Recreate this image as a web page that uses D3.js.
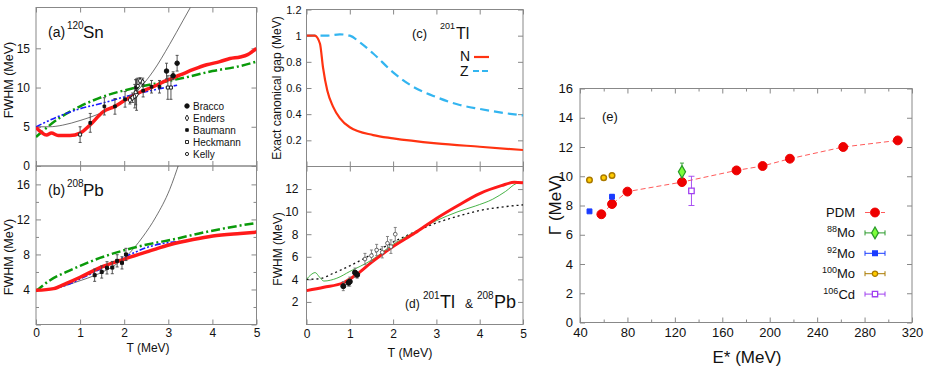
<!DOCTYPE html>
<html>
<head>
<meta charset="UTF-8">
<title></title>
<style>
    body { margin: 0; background: #fff; }
    text { font-family: "Liberation Sans", Arial, Helvetica, sans-serif; }
</style>
</head>
<body>
<script src="https://cdnjs.cloudflare.com/ajax/libs/d3/7.8.5/d3.min.js"></script>
<script>

    // ---- (a) 120Sn ----
    var snPdmT   = [0, 0.12, 0.24, 0.35, 0.5, 0.77, 1.0, 1.22, 1.52, 1.79, 2.02, 2.36, 2.66, 2.96, 3.27, 3.57, 3.87, 4.17, 4.4, 4.63, 4.8, 5.0];
    var snPdm    = [4.9, 4.3, 3.95, 4.2, 3.9, 3.9, 4.2, 5.2, 6.9, 7.6, 8.4, 9.4, 10.1, 10.9, 11.6, 12.3, 12.9, 13.3, 13.7, 13.9, 14.2, 15.0];
    var snGreenT = [0, 0.5, 1.0, 1.5, 2.2, 2.8, 3.4, 4.0, 4.6, 5.0];
    var snGreen  = [3.7, 6.0, 7.6, 8.8, 9.9, 10.6, 11.3, 12.1, 12.7, 13.3];
    var snBlueT  = [0, 0.5, 1.0, 1.5, 2.0, 2.6, 3.2];
    var snBlue   = [5.0, 6.3, 7.3, 8.0, 8.8, 9.6, 10.3];
    var snThinT  = [0, 0.3, 0.6, 1.0, 1.45, 1.9, 2.28, 2.66, 3.03, 3.33, 3.5];
    var snThin   = [5.0, 5.0, 5.2, 5.8, 6.7, 8.0, 9.5, 12.1, 15.5, 18.5, 20.2];
    // [T, FWHM, error]
    var bracco   = [[2.96, 12.1, 1.0], [3.11, 11.5, 0.5], [3.2, 13.1, 1.0]];
    var enders   = [[2.13, 8.4, 0.5], [2.19, 8.7, 0.6], [2.24, 8.9, 1.5], [2.28, 9.1, 2.0], [2.36, 10.85, 0.4], [2.42, 10.7, 0.5]];
    var baumann  = [[1.23, 5.5, 1.2], [1.55, 7.6, 1.1], [1.79, 7.6, 1.0], [2.02, 8.5, 1.0], [2.27, 10.0, 1.0], [2.43, 9.6, 0.8], [2.62, 10.1, 0.8], [2.8, 10.1, 0.8]];
    var heckmann = [[1.0, 4.0, 1.0], [2.99, 10.0, 1.5], [3.06, 10.0, 1.5]];
    var kelly    = [[2.26, 9.4, 1.6], [2.31, 10.2, 1.0]];
    var legendA  = ['Bracco', 'Enders', 'Baumann', 'Heckmann', 'Kelly'];

    // ---- (b) 208Pb ----
    var pbPdmT   = [0, 0.4, 0.69, 1.0, 1.45, 2.05, 2.58, 3.03, 3.56, 4.01, 4.63, 5.0];
    var pbPdm    = [3.9, 4.1, 4.7, 5.4, 6.5, 7.55, 8.4, 9.1, 9.7, 10.1, 10.4, 10.55];
    var pbGreenT = [0, 0.32, 0.69, 1.0, 1.45, 2.05, 2.58, 3.1, 3.7, 4.63, 5.0];
    var pbGreen  = [3.8, 5.06, 6.0, 6.7, 7.6, 8.55, 9.2, 9.7, 10.4, 11.3, 11.6];
    var pbBlueT  = [0, 0.4, 0.69, 1.0, 1.45, 2.05, 2.58, 3.26];
    var pbBlue   = [3.9, 4.1, 4.5, 5.2, 6.3, 7.8, 8.9, 9.5];
    var pbThinT  = [0, 0.4, 1.0, 1.33, 1.7, 2.05, 2.42, 2.72, 3.03, 3.25];
    var pbThin   = [3.9, 4.1, 5.0, 5.6, 6.5, 7.8, 10.0, 12.3, 15.4, 18.5];
    var pbData   = [[1.33, 5.63, 0.7], [1.49, 6.0, 0.7], [1.61, 6.47, 0.7], [1.73, 6.5, 0.7], [1.84, 7.27, 0.7], [1.95, 7.04, 0.7], [2.04, 8.0, 0.7]];

    // ---- (c) 201Tl exact canonical gap ----
    var gapNT = [0, 0.19, 0.31, 0.38, 0.48, 0.61, 0.77, 1.0, 1.54, 2.0, 3.0, 4.0, 5.0];
    var gapN  = [1, 1, 0.94, 0.76, 0.58, 0.46, 0.37, 0.30, 0.24, 0.215, 0.177, 0.151, 0.126];
    var gapZT = [0, 0.46, 0.77, 1.0, 1.23, 1.54, 2.0, 2.46, 3.0, 3.54, 4.0, 4.54, 5.0];
    var gapZ  = [1, 1, 1.01, 1.0, 0.95, 0.864, 0.72, 0.61, 0.53, 0.47, 0.44, 0.41, 0.39];

    // ---- (d) 201Tl & 208Pb ----
    var tlPdmT   = [0, 0.4, 0.85, 1.15, 1.5, 2.0, 2.5, 3.0, 3.5, 4.0, 4.5, 4.8, 5.0];
    var tlPdm    = [3.0, 3.3, 3.7, 4.4, 5.5, 6.9, 8.1, 9.4, 10.55, 11.6, 12.3, 12.6, 12.55];
    var tlGreenT = [0, 0.1, 0.2, 0.3, 0.4, 0.7, 1.0, 1.5, 2.0, 2.5, 3.0, 3.5, 3.9, 4.3, 4.6, 4.85, 5.0];
    var tlGreen  = [4.0, 4.4, 4.6, 4.2, 3.85, 4.1, 4.7, 5.7, 7.1, 8.2, 9.2, 10.0, 10.5, 11.1, 11.8, 12.5, 12.6];
    var tlDotT   = [0, 0.3, 0.6, 1.0, 1.5, 2.0, 2.5, 3.0, 3.5, 4.0, 4.5, 5.0];
    var tlDot    = [4.0, 4.05, 4.5, 5.2, 6.2, 7.3, 8.2, 9.0, 9.6, 10.1, 10.4, 10.6];
    var tlData   = [[0.85, 3.4, 0.4], [0.97, 3.7, 0.3], [1.0, 3.8, 0.4], [1.12, 4.6, 0.4], [1.17, 4.4, 0.3]];
    var pbOpen   = [[1.35, 5.8, 0.5], [1.5, 6.1, 0.5], [1.62, 6.6, 0.5], [1.75, 6.4, 0.5], [1.87, 7.2, 0.6], [1.95, 6.9, 0.6], [2.05, 8.0, 0.6]];

    // ---- (e) width vs excitation energy ----
    var pdmE   = [58, 67, 80, 126, 172, 194, 217, 262, 308];
    var pdmG   = [7.4, 8.1, 8.95, 9.6, 10.4, 10.7, 11.2, 12.0, 12.45];
    var mo88   = [[126, 10.3, 0.6]];
    var mo92   = [[48, 7.6, 0.05], [67, 8.6, 0.15]];
    var mo100  = [[48, 9.75, 0.15], [60, 9.9, 0.15], [67, 10.05, 0.15]];
    var cd106  = [[134, 9.0, 1.0]];

    var W = 926, H = 372;
    var svg = d3.select('body').append('svg').attr('width', W).attr('height', H);
    var defs = svg.append('defs');
    var nclip = 0;

    function pts(xs, ys) { return xs.map(function(t, i) { return [t, ys[i]]; }); }

    function panel(b, xd, yd, o) {
        var x = d3.scaleLinear().domain(xd).range([b.x0, b.x1]);
        var y = d3.scaleLinear().domain(yd).range([b.y1, b.y0]);
        var id = 'clip' + (nclip++);
        defs.append('clipPath').attr('id', id).append('rect')
            .attr('x', b.x0).attr('y', b.y0).attr('width', b.x1 - b.x0).attr('height', b.y1 - b.y0);

        function style(sel) {
            sel.select('.domain').remove();
            sel.selectAll('line').attr('stroke', '#888');
            sel.selectAll('text').attr('font-size', o.fs).attr('fill', '#111');
        }
        var ax = svg.append('g');
        ax.append('g').attr('transform', 'translate(0,' + b.y1 + ')')
            .call(d3.axisBottom(x).tickValues(o.xt).tickSize(-5).tickPadding(o.xpad || 4)
                .tickFormat(o.xlab ? d3.format('~g') : ''))
            .call(style);
        ax.append('g').attr('transform', 'translate(0,' + b.y0 + ')')
            .call(d3.axisTop(x).tickValues(o.xt).tickSize(-5).tickFormat(''))
            .call(style);
        ax.append('g').attr('transform', 'translate(' + b.x0 + ',0)')
            .call(d3.axisLeft(y).tickValues(o.yt).tickSize(-5).tickPadding(o.ypad || 6)
                .tickFormat(function(d) { return o.ylab.indexOf(d) >= 0 ? d3.format('~g')(d) : ''; }))
            .call(style);
        ax.append('g').attr('transform', 'translate(' + b.x1 + ',0)')
            .call(d3.axisRight(y).tickValues(o.yt).tickSize(-5).tickFormat(''))
            .call(style);
        if (o.xminor) {
            ax.append('g').attr('transform', 'translate(0,' + b.y1 + ')')
                .call(d3.axisBottom(x).tickValues(o.xminor).tickSize(-3).tickFormat('')).call(style);
            ax.append('g').attr('transform', 'translate(0,' + b.y0 + ')')
                .call(d3.axisTop(x).tickValues(o.xminor).tickSize(-3).tickFormat('')).call(style);
        }
        if (o.yminor) {
            ax.append('g').attr('transform', 'translate(' + b.x0 + ',0)')
                .call(d3.axisLeft(y).tickValues(o.yminor).tickSize(-3).tickFormat('')).call(style);
            ax.append('g').attr('transform', 'translate(' + b.x1 + ',0)')
                .call(d3.axisRight(y).tickValues(o.yminor).tickSize(-3).tickFormat('')).call(style);
        }
        svg.append('rect').attr('x', b.x0).attr('y', b.y0)
            .attr('width', b.x1 - b.x0).attr('height', b.y1 - b.y0)
            .attr('fill', 'none').attr('stroke', '#888').attr('stroke-width', 1);

        var plot = svg.append('g').attr('clip-path', 'url(#' + id + ')');
        return {x: x, y: y, g: plot};
    }

    function curve(p, data, color, width, dash) {
        var line = d3.line().curve(d3.curveMonotoneX)
            .x(function(d) { return p.x(d[0]); })
            .y(function(d) { return p.y(d[1]); });
        p.g.append('path').datum(data)
            .attr('d', line).attr('fill', 'none')
            .attr('stroke', color).attr('stroke-width', width)
            .attr('stroke-dasharray', dash || null)
            .attr('stroke-linejoin', 'round');
    }

    function errbars(p, data, color, cap) {
        var g = p.g.append('g').attr('stroke', color).attr('stroke-width', 0.9);
        g.selectAll('line.v').data(data).enter().append('line')
            .attr('x1', function(d) { return p.x(d[0]); })
            .attr('x2', function(d) { return p.x(d[0]); })
            .attr('y1', function(d) { return p.y(d[1] - d[2]); })
            .attr('y2', function(d) { return p.y(d[1] + d[2]); });
        [-1, 1].forEach(function(s) {
            g.selectAll('line.c' + s).data(data).enter().append('line')
                .attr('x1', function(d) { return p.x(d[0]) - cap; })
                .attr('x2', function(d) { return p.x(d[0]) + cap; })
                .attr('y1', function(d) { return p.y(d[1] + s * d[2]); })
                .attr('y2', function(d) { return p.y(d[1] + s * d[2]); });
        });
    }

    function marks(p, data, type, size, fill, stroke, sw) {
        p.g.selectAll(null).data(data).enter().append('path')
            .attr('d', d3.symbol().type(type).size(size))
            .attr('transform', function(d) { return 'translate(' + p.x(d[0]) + ',' + p.y(d[1]) + ')'; })
            .attr('fill', fill).attr('stroke', stroke).attr('stroke-width', sw || 1);
    }

    function label(x, y, str, size, anchor, rot) {
        var t = svg.append('text').attr('font-size', size).attr('fill', '#111')
            .attr('text-anchor', anchor || 'start').text(str);
        if (rot) t.attr('transform', 'translate(' + x + ',' + y + ') rotate(-90)');
        else t.attr('x', x).attr('y', y);
        return t;
    }

    var RED = '#ff1a1a', GREEN = '#0a9a0a', BLUE = '#1a1aff', THIN = '#333';
    var T5 = [0, 1, 2, 3, 4, 5];

    // ---------- panel (a) ----------
    var pa = panel({x0: 36, x1: 256.5, y0: 7.5, y1: 166}, [0, 5], [0, 20.2],
        {xt: T5, xlab: false, yt: [0, 5, 10, 15], ylab: [0, 5, 10, 15], fs: 12, ypad: 6});
    curve(pa, pts(snThinT, snThin), THIN, 0.7);
    curve(pa, pts(snGreenT, snGreen), GREEN, 2.5, '9,3,2,3');
    curve(pa, pts(snBlueT, snBlue), BLUE, 1.6, '6,2,2,2,2,2');
    curve(pa, pts(snPdmT, snPdm), RED, 3.5);
    [bracco, enders, baumann, heckmann, kelly].forEach(function(s) { errbars(pa, s, '#444', 1.5); });
    marks(pa, bracco, d3.symbolCircle, 16, '#111', '#111');
    marks(pa, enders, d3.symbolDiamond, 10, '#fff', '#111', 0.9);
    marks(pa, baumann, d3.symbolSquare, 7, '#111', '#111');
    marks(pa, heckmann, d3.symbolSquare, 9, '#fff', '#111', 0.9);
    marks(pa, kelly, d3.symbolCircle, 8, '#fff', '#111', 0.9);

    var legSym = [
        [d3.symbolCircle, 16, '#111'], [d3.symbolDiamond, 10, '#fff'], [d3.symbolSquare, 7, '#111'],
        [d3.symbolSquare, 9, '#fff'], [d3.symbolCircle, 8, '#fff']
    ];
    legendA.forEach(function(n, i) {
        var yy = 106 + i * 12;
        svg.append('path').attr('d', d3.symbol().type(legSym[i][0]).size(legSym[i][1]))
            .attr('transform', 'translate(187,' + yy + ')')
            .attr('fill', legSym[i][2]).attr('stroke', '#111').attr('stroke-width', 0.9);
        label(193, yy + 3.5, n, 10);
    });
    label(48, 37, '(a)', 14);
    label(67, 29, '120', 10);
    label(83, 38, 'Sn', 17);
    label(13, 80, 'FWHM  (MeV)', 12.5, 'middle', true);

    // ---------- panel (b) ----------
    var pb = panel({x0: 36, x1: 256.5, y0: 166, y1: 324.5}, [0, 5], [0, 18.1],
        {xt: T5, xlab: true, xpad: 4, yt: [0, 4, 8, 12, 16], ylab: [4, 8, 12, 16], yminor: [2, 6, 10, 14], fs: 12, ypad: 6});
    curve(pb, pts(pbThinT, pbThin), THIN, 0.7);
    curve(pb, pts(pbGreenT, pbGreen), GREEN, 2.5, '9,3,2,3');
    curve(pb, pts(pbBlueT, pbBlue), BLUE, 1.6, '6,2,2,2,2,2');
    curve(pb, pts(pbPdmT, pbPdm), RED, 3.5);
    errbars(pb, pbData, '#444', 1.5);
    marks(pb, pbData, d3.symbolSquare, 9, '#111', '#111');
    label(48, 195, '(b)', 14);
    label(67, 187, '208', 10);
    label(83, 196, 'Pb', 17);
    label(13, 257, 'FWHM  (MeV)', 12.5, 'middle', true);
    label(148, 352, 'T  (MeV)', 12, 'middle');

    // ---------- panel (c) ----------
    var pc = panel({x0: 306.5, x1: 523, y0: 9.5, y1: 166.5}, [0, 5], [0, 1.2],
        {xt: T5, xlab: false, yt: [0.2, 0.4, 0.6, 0.8, 1, 1.2], ylab: [0.2, 0.4, 0.6, 0.8, 1, 1.2], fs: 11, ypad: 5});
    curve(pc, pts(gapZT, gapZ), '#33b5f0', 2.2, '9,5');
    curve(pc, pts(gapNT, gapN), '#ff3311', 2.2);
    label(412, 38, '(c)', 13);
    label(440, 29, '201', 9);
    label(456, 39, 'Tl', 16);
    label(460, 61, 'N', 14);
    label(460, 76, 'Z', 14);
    svg.append('line').attr('x1', 474).attr('x2', 489).attr('y1', 57).attr('y2', 57)
        .attr('stroke', '#ff3311').attr('stroke-width', 2.2);
    svg.append('line').attr('x1', 473).attr('x2', 490).attr('y1', 71).attr('y2', 71)
        .attr('stroke', '#33b5f0').attr('stroke-width', 2.2).attr('stroke-dasharray', '6,3');
    label(281, 88, 'Exact canonical gap (MeV)', 12, 'middle', true);

    // ---------- panel (d) ----------
    var pd = panel({x0: 306.5, x1: 523, y0: 166.5, y1: 324.5}, [0, 5], [0, 14],
        {xt: T5, xlab: true, xpad: 5, yt: [2, 4, 6, 8, 10, 12], ylab: [2, 4, 6, 8, 10, 12], fs: 12, ypad: 8});
    curve(pd, pts(tlDotT, tlDot), '#111', 1.3, '2,3');
    curve(pd, pts(tlGreenT, tlGreen), '#33aa33', 0.9);
    curve(pd, pts(tlPdmT, tlPdm), RED, 3);
    errbars(pd, pbOpen, '#777', 1.5);
    errbars(pd, tlData, '#777', 1.5);
    marks(pd, pbOpen, d3.symbolCircle, 11, '#fff', '#555', 0.9);
    marks(pd, tlData, d3.symbolCircle, 20, '#111', '#111');
    label(405, 308, '(d)', 12);
    label(423, 299, '201', 10);
    label(440, 308, 'Tl', 18);
    label(465, 308, '&', 12);
    label(477, 299, '208', 10);
    label(494, 308, 'Pb', 18);
    label(282, 249, 'FWHM  (MeV)', 12, 'middle', true);
    label(410, 357, 'T  (MeV)', 12.5, 'middle');

    // ---------- panel (e) ----------
    var eTicks = d3.range(40, 321, 40), gTicks = d3.range(0, 17, 2);
    var pe = panel({x0: 580, x1: 912, y0: 88.5, y1: 322.5}, [40, 320], [0, 16],
        {xt: eTicks, xlab: true, xpad: 5, xminor: d3.range(60, 320, 40), yt: gTicks, ylab: gTicks, fs: 13, ypad: 7});
    var pdm = pts(pdmE, pdmG);
    pe.g.append('path').datum(pdm)
        .attr('d', d3.line().x(function(d) { return pe.x(d[0]); }).y(function(d) { return pe.y(d[1]); }))
        .attr('fill', 'none').attr('stroke', '#ff5a5a').attr('stroke-width', 1).attr('stroke-dasharray', '5,3');
    errbars(pe, mo100, '#aa7a00', 2);
    errbars(pe, mo92, '#1a3cff', 2);
    errbars(pe, mo88, '#2a9a2a', 2);
    errbars(pe, cd106, '#a040f0', 3);
    marks(pe, pdm, d3.symbolCircle, 62, '#ee0000', '#ee0000');
    marks(pe, mo100, d3.symbolCircle, 24, '#ffcc00', '#aa7a00', 1.5);
    marks(pe, mo92, d3.symbolSquare, 24, '#1a3cff', '#1a3cff');
    marks(pe, mo88, d3.symbolDiamond, 45, '#7dff3a', '#2a9a2a', 1.2);
    marks(pe, cd106, d3.symbolSquare, 30, '#fff', '#a040f0', 1.3);

    var legE = [
        {pre: '', name: 'PDM', col: '#ff5a5a', sym: d3.symbolCircle, size: 62, fill: '#ee0000', stroke: '#ee0000'},
        {pre: '88', name: 'Mo', col: '#2a9a2a', sym: d3.symbolDiamond, size: 40, fill: '#7dff3a', stroke: '#2a9a2a'},
        {pre: '92', name: 'Mo', col: '#1a3cff', sym: d3.symbolSquare, size: 22, fill: '#1a3cff', stroke: '#1a3cff'},
        {pre: '100', name: 'Mo', col: '#aa7a00', sym: d3.symbolCircle, size: 22, fill: '#ffcc00', stroke: '#aa7a00'},
        {pre: '106', name: 'Cd', col: '#a040f0', sym: d3.symbolSquare, size: 28, fill: '#fff', stroke: '#a040f0'}
    ];
    legE.forEach(function(d, i) {
        var by = 217 + i * 20.4, cy = by - 4.5;
        var t = svg.append('text').attr('x', 855).attr('y', by).attr('font-size', 13)
            .attr('text-anchor', 'end').attr('fill', '#111');
        if (d.pre) t.append('tspan').attr('font-size', 9).attr('dy', -5).text(d.pre);
        t.append('tspan').attr('dy', d.pre ? 5 : 0).text(d.name);
        var l = svg.append('line').attr('x1', 865).attr('x2', 885).attr('y1', cy).attr('y2', cy)
            .attr('stroke', d.col).attr('stroke-width', 1);
        if (i === 0) l.attr('stroke-dasharray', '5,3');
        else {
            [865, 885].forEach(function(xx) {
                svg.append('line').attr('x1', xx).attr('x2', xx).attr('y1', cy - 2.5).attr('y2', cy + 2.5)
                    .attr('stroke', d.col).attr('stroke-width', 1);
            });
        }
        svg.append('path').attr('d', d3.symbol().type(d.sym).size(d.size))
            .attr('transform', 'translate(875,' + cy + ')')
            .attr('fill', d.fill).attr('stroke', d.stroke).attr('stroke-width', i === 0 ? 1 : 1.3);
    });
    label(602, 121, '(e)', 13);
    label(561, 205, 'Γ  (MeV)', 17, 'middle', true);
    label(747, 363, 'E*  (MeV)', 17, 'middle');

</script>
</body>
</html>
